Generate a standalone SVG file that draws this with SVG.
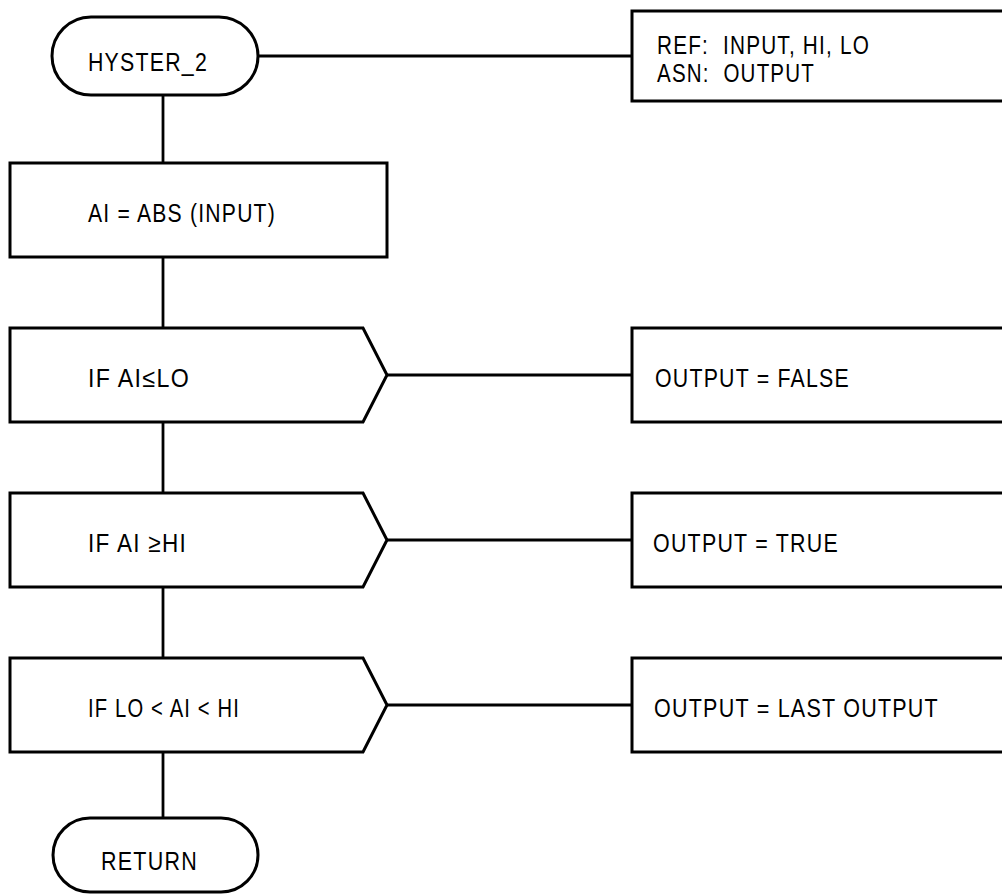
<svg xmlns="http://www.w3.org/2000/svg" width="1002" height="894" viewBox="0 0 1002 894">
<style>
.s{fill:#fff;stroke:#000;stroke-width:3;stroke-linejoin:miter}
.c{fill:none;stroke:#000;stroke-width:2.8}
text{font-family:"Liberation Sans Narrow","Arial Narrow","Liberation Sans",Arial,sans-serif;font-size:26px;letter-spacing:1.5px;fill:#000;white-space:pre}
</style>
<rect width="1002" height="894" fill="#fff"/>
<g id="connectors">
<line class="c" x1="258" y1="56" x2="632" y2="56"/>
<line class="c" x1="163" y1="95" x2="163" y2="163"/>
<line class="c" x1="163" y1="257" x2="163" y2="328"/>
<line class="c" x1="163" y1="422" x2="163" y2="493"/>
<line class="c" x1="163" y1="587" x2="163" y2="658"/>
<line class="c" x1="163" y1="752" x2="163" y2="818"/>
<line class="c" x1="387" y1="375" x2="632" y2="375"/>
<line class="c" x1="387" y1="540" x2="632" y2="540"/>
<line class="c" x1="387" y1="705" x2="632" y2="705"/>
</g>
<g id="start">
<rect class="s" x="52" y="17" width="206" height="78" rx="39" ry="39"/>
<text x="88" y="71" textLength="120" lengthAdjust="spacingAndGlyphs">HYSTER_2</text>
</g>
<g id="ref">
<rect class="s" x="632" y="11" width="400" height="90"/>
<text x="657" y="54" textLength="213" lengthAdjust="spacingAndGlyphs">REF:  INPUT, HI, LO</text>
<text x="657" y="82" textLength="158" lengthAdjust="spacingAndGlyphs">ASN:  OUTPUT</text>
</g>
<g id="abs">
<rect class="s" x="10" y="163" width="377" height="94"/>
<text x="88" y="222" textLength="188" lengthAdjust="spacingAndGlyphs">AI = ABS (INPUT)</text>
</g>
<g id="if1">
<polygon class="s" points="10,328 363,328 387,375 363,422 10,422"/>
<text x="88" y="387" textLength="102" lengthAdjust="spacingAndGlyphs">IF AI≤LO</text>
</g>
<g id="out1">
<rect class="s" x="632" y="328" width="400" height="94"/>
<text x="655" y="387" textLength="195" lengthAdjust="spacingAndGlyphs">OUTPUT = FALSE</text>
</g>
<g id="if2">
<polygon class="s" points="10,493 363,493 387,540 363,587 10,587"/>
<text x="88" y="552" textLength="99" lengthAdjust="spacingAndGlyphs">IF AI ≥HI</text>
</g>
<g id="out2">
<rect class="s" x="632" y="493" width="400" height="94"/>
<text x="653" y="552" textLength="186" lengthAdjust="spacingAndGlyphs">OUTPUT = TRUE</text>
</g>
<g id="if3">
<polygon class="s" points="10,658 363,658 387,705 363,752 10,752"/>
<text x="88" y="717" textLength="152" lengthAdjust="spacingAndGlyphs">IF LO &lt; AI &lt; HI</text>
</g>
<g id="out3">
<rect class="s" x="632" y="658" width="400" height="94"/>
<text x="654" y="717" textLength="285" lengthAdjust="spacingAndGlyphs">OUTPUT = LAST OUTPUT</text>
</g>
<g id="return">
<rect class="s" x="53" y="818" width="205" height="74" rx="37" ry="37"/>
<text x="101" y="870" textLength="97" lengthAdjust="spacingAndGlyphs">RETURN</text>
</g>
</svg>
